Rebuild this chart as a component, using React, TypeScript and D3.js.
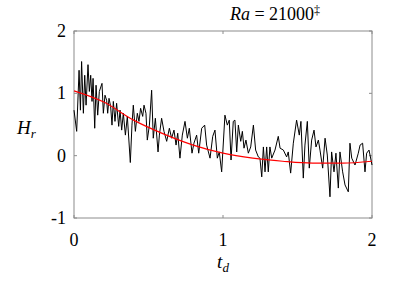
import { useRef, useEffect } from "react";
import * as d3 from "d3";

// noisy measured series (t_d, H_r)
const noisyT = [
  0, 0.018, 0.034, 0.043, 0.051, 0.063, 0.072, 0.081, 0.094, 0.103, 0.112, 0.121, 0.128, 0.139,
  0.148, 0.159, 0.17, 0.188, 0.197, 0.208, 0.219, 0.226, 0.235, 0.246, 0.255, 0.264, 0.275, 0.286,
  0.3, 0.309, 0.32, 0.331, 0.345, 0.358, 0.378, 0.389, 0.398, 0.412, 0.425, 0.436, 0.447, 0.461,
  0.47, 0.483, 0.492, 0.506, 0.521, 0.532, 0.546, 0.564, 0.573, 0.588, 0.604, 0.622, 0.64, 0.655,
  0.671, 0.685, 0.696, 0.711, 0.727, 0.745, 0.761, 0.774, 0.792, 0.805, 0.823, 0.837, 0.857, 0.877,
  0.89, 0.913, 0.931, 0.946, 0.962, 0.975, 0.991, 1.013, 1.029, 1.042, 1.054, 1.069, 1.08, 1.092,
  1.103, 1.119, 1.13, 1.141, 1.154, 1.17, 1.186, 1.204, 1.219, 1.237, 1.248, 1.26, 1.271, 1.282,
  1.293, 1.304, 1.315, 1.327, 1.349, 1.371, 1.383, 1.405, 1.427, 1.438, 1.454, 1.472, 1.494, 1.512,
  1.523, 1.539, 1.55, 1.566, 1.579, 1.595, 1.611, 1.624, 1.64, 1.651, 1.669, 1.685, 1.7, 1.718,
  1.729, 1.745, 1.758, 1.774, 1.785, 1.803, 1.819, 1.841, 1.852, 1.864, 1.886, 1.908, 1.92, 1.937,
  1.953, 1.964, 1.98, 2.0,
];
const noisyH = [
  0.73, 0.39, 1.37, 0.73, 1.51, 0.68, 1.29, 0.81, 1.46, 1.03, 1.29, 0.87, 1.24, 0.44,
  1.13, 0.65, 1.03, 1.16, 0.68, 0.97, 0.89, 0.68, 0.92, 0.79, 0.49, 0.87, 0.55, 0.84,
  0.47, 0.73, 0.41, 0.68, 0.33, 0.63, -0.11, 0.49, 0.81, 0.39, 0.68, 0.55, 0.76, 0.63,
  0.81, 0.68, 0.25, 0.49, 1.05, 0.28, 0.6, 0.06, 0.33, 0.6, 0.39, 0.23, 0.44, 0.28,
  0.41, 0.17, 0.36, -0.04, 0.33, 0.55, 0.28, 0.44, 0.04, 0.2, 0.33, 0.04, 0.44, 0.49,
  0.17, -0.04, 0.31, 0.41, -0.04, 0.06, -0.26, 0.65, 0.49, 0.57, -0.07, 0.55, 0.57, 0.06,
  0.49, 0.23, 0.39, 0.12, 0.25, 0.04, 0.14, 0.49, 0.09, -0.02, -0.04, -0.34, 0.14, -0.26,
  0.14, -0.26, 0.14, -0.04, 0.09, 0.31, 0.12, 0.09, -0.02, 0.06, -0.28, 0.2, 0.57, 0.33,
  0.55, -0.36, 0.17, 0.55, -0.2, 0.25, 0.41, 0.14, 0.25, 0.09, -0.2, 0.28, 0.01, -0.66,
  0.06, -0.26, 0.04, -0.52, 0.06, -0.26, -0.47, -0.58, 0.2, -0.04, -0.15, 0.04, 0.17, 0.2,
  -0.26, 0.04, 0.09, -0.15,
];

// smooth fit
const fitT = [0, 0.2, 0.4, 0.6, 0.8, 1.0, 1.2, 1.4, 1.6, 1.8, 2.0];
const fitH = [1.04, 0.86, 0.57, 0.35, 0.17, 0.04, -0.04, -0.09, -0.12, -0.12, -0.09];

const xTicks = [0, 1, 2];
const yTicks = [-1, 0, 1, 2];

const App = () => {
  const svgRef = useRef(null);

  useEffect(() => {
    const svg = d3.select(svgRef.current);
    svg.selectAll("*").remove();

    const left = 74;
    const right = 372;
    const top = 31;
    const bottom = 218;
    const font = "'Liberation Serif', 'DejaVu Serif', serif";

    const x = d3.scaleLinear().domain([0, 2]).range([left, right]);
    const y = d3.scaleLinear().domain([-1, 2]).range([bottom, top]);

    const g = svg.append("g").style("font-family", font);

    // frame
    g.append("rect")
      .attr("x", left)
      .attr("y", top)
      .attr("width", right - left)
      .attr("height", bottom - top)
      .attr("fill", "none")
      .attr("stroke", "#8c8c8c")
      .attr("stroke-width", 1);

    const tickLen = 3;
    xTicks.forEach((t) => {
      g.append("line")
        .attr("x1", x(t)).attr("x2", x(t))
        .attr("y1", bottom).attr("y2", bottom - tickLen)
        .attr("stroke", "#8c8c8c");
      g.append("line")
        .attr("x1", x(t)).attr("x2", x(t))
        .attr("y1", top).attr("y2", top + tickLen)
        .attr("stroke", "#8c8c8c");
      g.append("text")
        .attr("x", x(t))
        .attr("y", 246)
        .attr("text-anchor", "middle")
        .attr("font-size", 18)
        .text(t);
    });

    yTicks.forEach((v) => {
      g.append("line")
        .attr("x1", left).attr("x2", left + tickLen)
        .attr("y1", y(v)).attr("y2", y(v))
        .attr("stroke", "#8c8c8c");
      g.append("line")
        .attr("x1", right).attr("x2", right - tickLen)
        .attr("y1", y(v)).attr("y2", y(v))
        .attr("stroke", "#8c8c8c");
      g.append("text")
        .attr("x", 66)
        .attr("y", y(v) + 6)
        .attr("text-anchor", "end")
        .attr("font-size", 18)
        .text(v);
    });

    const noisy = noisyT.map((t, i) => [t, noisyH[i]]);
    const fit = fitT.map((t, i) => [t, fitH[i]]);

    g.append("path")
      .datum(noisy)
      .attr("fill", "none")
      .attr("stroke", "#000")
      .attr("stroke-width", 1)
      .attr("stroke-linejoin", "round")
      .attr("d", d3.line().x((d) => x(d[0])).y((d) => y(d[1])));

    g.append("path")
      .datum(fit)
      .attr("fill", "none")
      .attr("stroke", "#ff0000")
      .attr("stroke-width", 1.2)
      .attr("d", d3.line().curve(d3.curveMonotoneX).x((d) => x(d[0])).y((d) => y(d[1])));

    // title
    const title = g.append("text")
      .attr("x", 275)
      .attr("y", 20)
      .attr("text-anchor", "middle")
      .attr("font-size", 18);
    title.append("tspan").attr("font-style", "italic").text("Ra");
    title.append("tspan").text(" = 21000");
    title.append("tspan").attr("dy", -6).attr("font-size", 12).text("‡");

    // y label
    const yl = g.append("text")
      .attr("x", 17)
      .attr("y", 134)
      .attr("font-size", 19)
      .attr("font-style", "italic");
    yl.append("tspan").text("H");
    yl.append("tspan").attr("dy", 4).attr("font-size", 13).text("r");

    // x label
    const xl = g.append("text")
      .attr("x", 223)
      .attr("y", 268)
      .attr("text-anchor", "middle")
      .attr("font-size", 19)
      .attr("font-style", "italic");
    xl.append("tspan").text("t");
    xl.append("tspan").attr("dy", 4).attr("font-size", 13).text("d");
  }, []);

  return (
    <div style={{ position: "absolute", left: 0, top: 0, background: "#fff" }}>
      <svg ref={svgRef} width={399} height={290} style={{ display: "block" }}></svg>
    </div>
  );
};

export default App;
